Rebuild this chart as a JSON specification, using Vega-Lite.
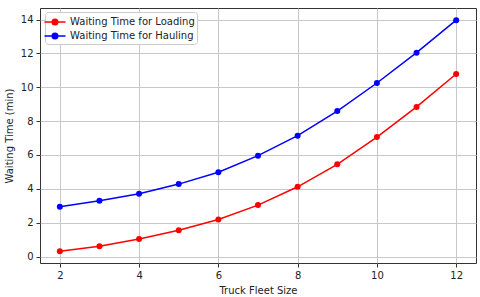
{
  "$schema": "https://vega.github.io/schema/vega-lite/v6.json",
  "width": 436,
  "height": 255,
  "padding": {"left": 40, "top": 8, "right": 4, "bottom": 34},
  "autosize": {"type": "none"},
  "background": "white",
  "config": {
    "font": "DejaVu Sans",
    "view": {"stroke": "#333333", "strokeWidth": 1},
    "axis": {
      "domain": false,
      "grid": true,
      "gridColor": "#c8c8c8",
      "gridWidth": 1,
      "tickColor": "#333333",
      "tickSize": 4,
      "labelFont": "DejaVu Sans",
      "labelFontSize": 10,
      "labelColor": "#222222",
      "titleFont": "DejaVu Sans",
      "titleFontSize": 10,
      "titleFontWeight": "normal",
      "titleColor": "#222222"
    }
  },
  "data": {
    "values": [
      {"size": 2, "series": "Waiting Time for Loading", "wait": 0.31},
      {"size": 3, "series": "Waiting Time for Loading", "wait": 0.61},
      {"size": 4, "series": "Waiting Time for Loading", "wait": 1.04},
      {"size": 5, "series": "Waiting Time for Loading", "wait": 1.55},
      {"size": 6, "series": "Waiting Time for Loading", "wait": 2.19},
      {"size": 7, "series": "Waiting Time for Loading", "wait": 3.04},
      {"size": 8, "series": "Waiting Time for Loading", "wait": 4.12},
      {"size": 9, "series": "Waiting Time for Loading", "wait": 5.45},
      {"size": 10, "series": "Waiting Time for Loading", "wait": 7.06},
      {"size": 11, "series": "Waiting Time for Loading", "wait": 8.84},
      {"size": 12, "series": "Waiting Time for Loading", "wait": 10.78},
      {"size": 2, "series": "Waiting Time for Hauling", "wait": 2.94},
      {"size": 3, "series": "Waiting Time for Hauling", "wait": 3.29},
      {"size": 4, "series": "Waiting Time for Hauling", "wait": 3.71},
      {"size": 5, "series": "Waiting Time for Hauling", "wait": 4.28},
      {"size": 6, "series": "Waiting Time for Hauling", "wait": 4.98},
      {"size": 7, "series": "Waiting Time for Hauling", "wait": 5.96},
      {"size": 8, "series": "Waiting Time for Hauling", "wait": 7.14},
      {"size": 9, "series": "Waiting Time for Hauling", "wait": 8.59},
      {"size": 10, "series": "Waiting Time for Hauling", "wait": 10.25},
      {"size": 11, "series": "Waiting Time for Hauling", "wait": 12.04},
      {"size": 12, "series": "Waiting Time for Hauling", "wait": 13.96}
    ]
  },
  "encoding": {
    "x": {
      "field": "size",
      "type": "quantitative",
      "scale": {"domain": [1.5, 12.5], "nice": false, "zero": false},
      "axis": {"values": [2, 4, 6, 8, 10, 12], "title": "Truck Fleet Size", "titlePadding": 5, "labelPadding": 3}
    },
    "y": {
      "field": "wait",
      "type": "quantitative",
      "scale": {"domain": [-0.38, 14.68], "nice": false, "zero": false},
      "axis": {"values": [0, 2, 4, 6, 8, 10, 12, 14], "title": "Waiting Time (min)", "titlePadding": 6, "labelPadding": 3}
    },
    "color": {
      "field": "series",
      "type": "nominal",
      "sort": ["Waiting Time for Loading", "Waiting Time for Hauling"],
      "scale": {"domain": ["Waiting Time for Loading", "Waiting Time for Hauling"], "range": ["#ff0000", "#0000ff"]},
      "legend": {
        "title": null,
        "orient": "none",
        "legendX": 5,
        "legendY": 4,
        "fillColor": "white",
        "strokeColor": "#cccccc",
        "cornerRadius": 3,
        "padding": 2,
        "rowPadding": 0,
        "symbolType": "M -1.5 0 L 1.5 0 M -0.4 0 A 0.4 0.4 0 1 1 0.4 0 A 0.4 0.4 0 1 1 -0.4 0 Z",
        "symbolSize": 196,
        "symbolStrokeWidth": 1.5,
        "labelFont": "DejaVu Sans",
        "labelFontSize": 10,
        "labelColor": "#222222",
        "labelOffset": 7,
        "encode": {
          "symbols": {"update": {"fill": {"scale": "color", "field": "value"}, "stroke": {"scale": "color", "field": "value"}}}
        }
      }
    }
  },
  "layer": [
    {"mark": {"type": "line", "strokeWidth": 1.5}},
    {"mark": {"type": "point", "filled": true, "opacity": 1, "size": 36}}
  ]
}
